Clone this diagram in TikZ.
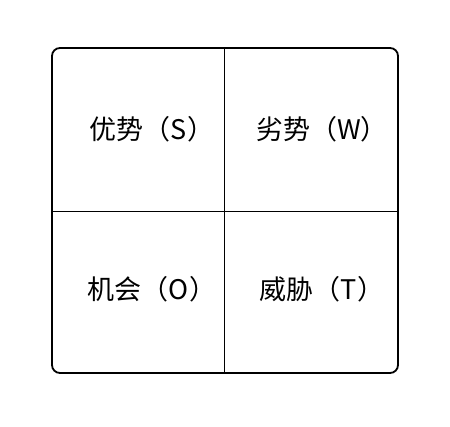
\documentclass[tikz,border=0pt]{standalone}
\usepackage{fontspec}
\newfontfamily\cjk{Noto Sans CJK SC}
\begin{document}
\begin{tikzpicture}[x=1pt,y=-1pt]
\tikzset{label/.style={font=\cjk\fontsize{27}{30}\selectfont, inner sep=0pt}}
\useasboundingbox (0,0) rectangle (450,427);
\coordinate (tl) at (52,48);
\coordinate (br) at (398,373);
\coordinate (top) at (224,48);
\coordinate (bot) at (224,373);
\coordinate (left) at (52,211);
\coordinate (right) at (398,211);
\path[draw,line width=1.8pt,rounded corners=8pt] (tl) rectangle (br);
\path[draw,line width=0.9pt] (top) -- (bot);
\path[draw,line width=0.9pt] (left) -- (right);
\node[label] (s) at (152,129) {优势（S）};
\node[label] (w) at (322,129) {劣势（W）};
\node[label] (o) at (152,289) {机会（O）};
\node[label] (t) at (322,289) {威胁（T）};
\end{tikzpicture}
\end{document}
